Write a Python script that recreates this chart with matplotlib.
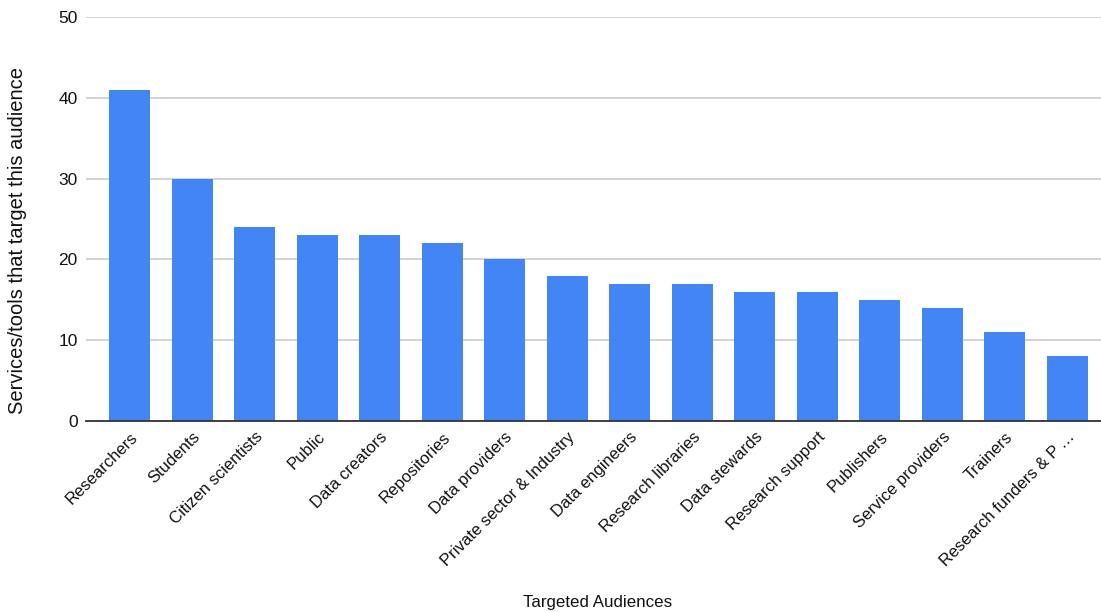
import numpy as np
import matplotlib.pyplot as plt

# Data
audiences = ["Researchers", "Students", "Citizen scientists", "Public", "Data creators",
             "Repositories", "Data providers", "Private sector & Industry", "Data engineers",
             "Research libraries", "Data stewards", "Research support", "Publishers",
             "Service providers", "Trainers", "Research funders & P\u2009\u2026"]
counts = [41, 30, 24, 23, 23, 22, 20, 18, 17, 17, 16, 16, 15, 14, 11, 8]
y_ticks = [0, 10, 20, 30, 40, 50]

plt.rcParams["font.family"] = ["Liberation Sans", "DejaVu Sans"]

fig = plt.figure(figsize=(11.01, 6.12), dpi=100)
ax = fig.add_axes([86/1101, (612-421)/612, 1 - 86/1101, (421-17)/612])

x = np.arange(len(audiences))
ax.bar(x, counts, width=0.65, color="#4285F4", zorder=3)

# Axes formatting
ax.set_xlim(-0.7, len(audiences) - 1 + 0.54)
ax.set_ylim(0, 50)
ax.set_yticks(y_ticks)
ax.yaxis.grid(True, color="#cccccc", linewidth=1.2, zorder=0)
ax.tick_params(axis="y", length=0, pad=6, labelsize=12.5, colors="#111111")
ax.tick_params(axis="x", length=0, pad=6, labelsize=12, colors="#111111")
ax.set_xticks(x)
ax.set_xticklabels(audiences, rotation=45, ha="right", rotation_mode="anchor")
for side in ["top", "right", "left"]:
    ax.spines[side].set_visible(False)
ax.spines["bottom"].set_color("#333333")
ax.spines["bottom"].set_linewidth(1.3)
ax.spines["bottom"].set_zorder(4)

fig.text(598/1101, 1 - 602/612, "Targeted Audiences", ha="center", va="center",
         fontsize=12.2, color="#111111")
fig.text(18/1101, 1 - 241/612, "Services/tools that target this audience", ha="center",
         va="center", rotation=90, fontsize=14.5, color="#111111")

fig.savefig("out.png", dpi=100)
